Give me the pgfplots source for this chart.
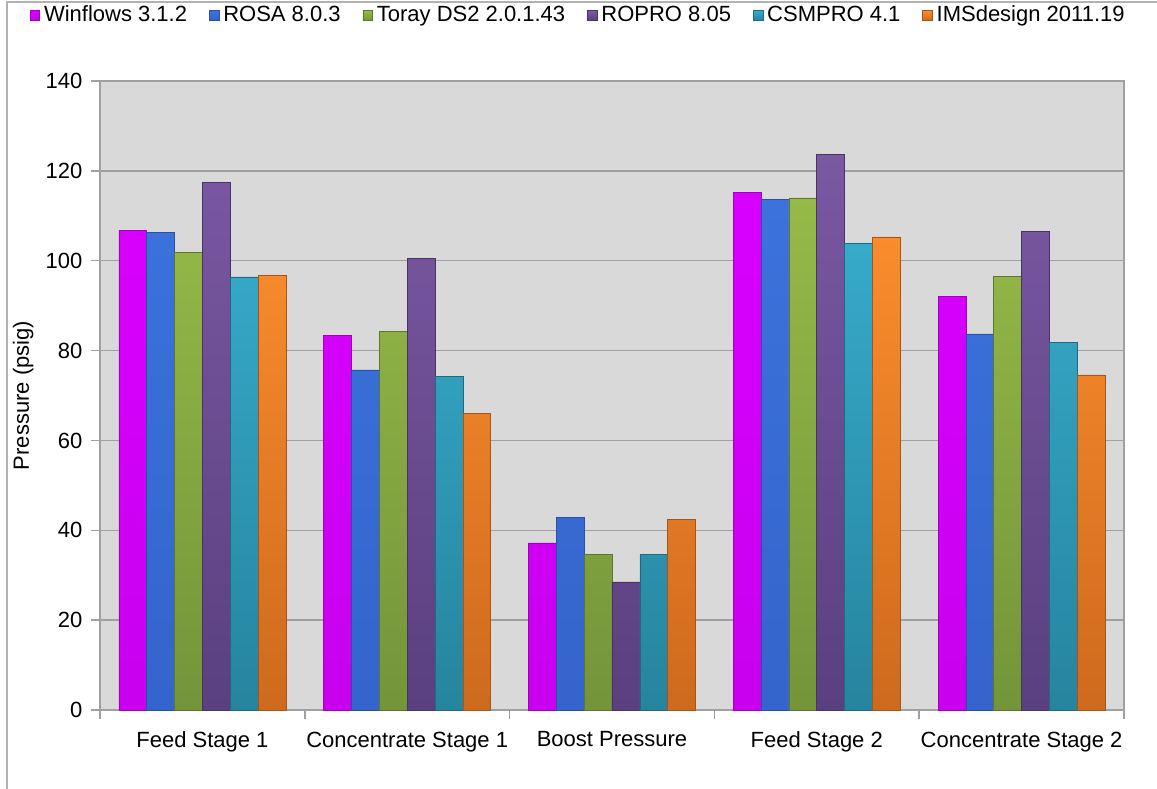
\documentclass[border=0pt]{standalone}
\usepackage{fontspec}
\setmainfont{Liberation Sans}
\usepackage{pgfplots}
\pgfplotsset{compat=1.18}
\definecolor{bggray}{HTML}{D9D9D9}
\definecolor{gridgray}{HTML}{A0A0A0}
\definecolor{magT}{HTML}{D800FF}
\definecolor{magB}{HTML}{C800EE}
\definecolor{bluT}{HTML}{3C72DC}
\definecolor{bluB}{HTML}{3464CC}
\definecolor{grnT}{HTML}{96BA48}
\definecolor{grnB}{HTML}{74943A}
\definecolor{purT}{HTML}{7A58A2}
\definecolor{purB}{HTML}{5A4080}
\definecolor{cyaT}{HTML}{36AACA}
\definecolor{cyaB}{HTML}{26849E}
\definecolor{ornT}{HTML}{FA8C2C}
\definecolor{ornB}{HTML}{CE6A1E}
\begin{document}
\fontsize{11}{13}\selectfont
\begin{tikzpicture}
\path[use as bounding box] (-50pt,-39pt) rectangle (528.5pt,355pt);
\draw[gray!60, line width=0.75pt] (-46.5pt,-40pt) -- (-46.5pt,354pt) -- (530pt,354pt);
\begin{axis}[
  at={(0pt,0pt)}, anchor=south west,
  width=512pt, height=314.5pt, scale only axis,
  ybar=0pt, bar width=0.136,
  xmin=-0.5, xmax=4.5, ymin=0, ymax=140,
  ytick={0,20,...,140},
  xtick={0,1,2,3,4},
  xticklabels={Feed Stage 1, Concentrate Stage 1, Boost Pressure, Feed Stage 2, Concentrate Stage 2},
  minor xtick={-0.5,0.5,1.5,2.5,3.5,4.5},
  major x tick style={draw=none},
  minor x tick style={gridgray, line width=0.75pt},
  ytick style={gridgray, line width=0.75pt},
  tick align=outside, tick pos=left,
  major tick length=4.5pt, minor tick length=4.5pt,
  ymajorgrids, grid style={gridgray, line width=0.75pt},
  axis background/.style={fill=bggray},
  axis line style={gridgray, line width=0.75pt},
  /pgf/number format/assume math mode=true,
  ticklabel style={font=\fontsize{11}{13}\selectfont},
  xticklabel style={yshift=-2.5pt},
  yticklabel style={xshift=-0.5pt},
  ylabel={Pressure (psig)},
  ylabel style={at={(rel axis cs:-0.075,0.5)}, anchor=center, font=\fontsize{11}{13}\selectfont},
  legend columns=6,
  legend style={at={(rel axis cs:0.468,1.104)}, anchor=center, draw=none, fill=none,
     font=\fontsize{11}{13}\selectfont,
     /tikz/every even column/.append style={column sep=9pt}},
  legend image code/.code={\draw[#1] (0pt,-2.4pt) rectangle (4.8pt,2.4pt);},
]
\addplot[draw=magB!80!black, line width=0.3pt, top color=magT, bottom color=magB]
  coordinates {(0,106.8) (1,83.4) (2,37.2) (3,115.2) (4,92.0)};
\addplot[draw=bluB!80!black, line width=0.3pt, top color=bluT, bottom color=bluB]
  coordinates {(0,106.3) (1,75.7) (2,42.9) (3,113.6) (4,83.7)};
\addplot[draw=grnB!80!black, line width=0.3pt, top color=grnT, bottom color=grnB]
  coordinates {(0,101.8) (1,84.3) (2,34.6) (3,114.0) (4,96.5)};
\addplot[draw=purB!80!black, line width=0.3pt, top color=purT, bottom color=purB]
  coordinates {(0,117.5) (1,100.5) (2,28.5) (3,123.6) (4,106.5)};
\addplot[draw=cyaB!80!black, line width=0.3pt, top color=cyaT, bottom color=cyaB]
  coordinates {(0,96.4) (1,74.2) (2,34.6) (3,103.8) (4,81.9)};
\addplot[draw=ornB!80!black, line width=0.3pt, top color=ornT, bottom color=ornB]
  coordinates {(0,96.8) (1,66.0) (2,42.5) (3,105.3) (4,74.6)};
\legend{Winflows 3.1.2, ROSA 8.0.3, Toray DS2 2.0.1.43, ROPRO 8.05, CSMPRO 4.1, IMSdesign 2011.19}
\end{axis}
\end{tikzpicture}
\end{document}
